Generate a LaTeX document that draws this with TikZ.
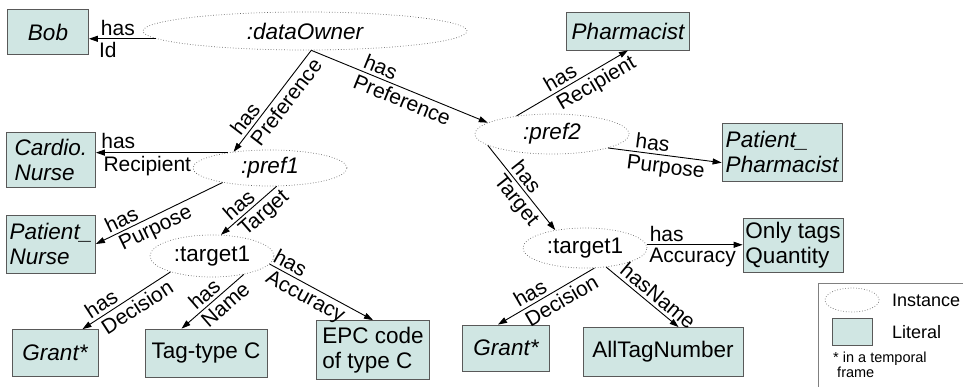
\documentclass[tikz,border=0pt]{standalone}
\usepackage{fontspec}
\setmainfont{Liberation Sans}
\usetikzlibrary{shapes.geometric,arrows.meta}
\definecolor{litfill}{RGB}{208,230,227}
\begin{document}
\begin{tikzpicture}[x = 1pt, y = -1pt,
	inode/.style = {shape = ellipse,
	                draw = black!60,
	                dotted,
	                line width = 0.7pt,
	                inner sep = 0pt,
	                font = \fontsize{22.5}{25}\selectfont},
	lnode/.style = {shape = rectangle,
	                draw = black!65,
	                fill = litfill,
	                line width = 0.8pt,
	                inner sep = 0pt,
	                align = left,
	                font = \fontsize{22.5}{25}\selectfont},
	rel/.style = {draw,
	              line width = 0.9pt,
	              -{Triangle[length = 9pt, width = 6pt]}},
	lab/.style = {font = \fontsize{21}{23}\selectfont,
	              inner sep = 3pt}]
	\useasboundingbox (0,0) rectangle (963,387);

	\node[inode, minimum width = 324pt, minimum height = 38pt] (owner) at (305,31) {\itshape :dataOwner};
	\node[inode, minimum width = 154pt, minimum height = 36pt] (pref1) at (270,168) {\itshape :pref1};
	\node[inode, minimum width = 154pt, minimum height = 40pt] (pref2) at (552,134) {\itshape :pref2};
	\node[inode, minimum width = 124pt, minimum height = 42pt] (tgtA) at (212,256) {:target1};
	\node[inode, minimum width = 124pt, minimum height = 40pt] (tgtB) at (585,248) {:target1};

	\node[lnode, minimum width = 81pt, minimum height = 45pt] (bob) at (48,32) {\itshape Bob};
	\node[lnode, minimum width = 123pt, minimum height = 38pt] (pharm) at (628,31) {\itshape Pharmacist};
	\node[lnode, minimum width = 120pt, minimum height = 58pt] (ppharm) at (782,152) {\itshape Patient\_\\\itshape Pharmacist};
	\node[lnode, minimum width = 89pt, minimum height = 55pt] (cardio) at (51,160) {\itshape Cardio.\\\itshape Nurse};
	\node[lnode, minimum width = 89pt, minimum height = 58pt] (pnurse) at (51,244) {\itshape Patient\_\\\itshape Nurse};
	\node[lnode, minimum width = 86pt, minimum height = 47pt] (grantA) at (55,353) {\itshape Grant*};
	\node[lnode, minimum width = 122pt, minimum height = 48pt] (tagC) at (206,353) {Tag-type C};
	\node[lnode, minimum width = 113pt, minimum height = 59pt] (epc) at (373,350) {EPC code\\of type C};
	\node[lnode, minimum width = 100pt, minimum height = 54pt] (only) at (793,245) {Only tags\\Quantity};
	\node[lnode, minimum width = 87pt, minimum height = 46pt] (grantB) at (506,348) {\itshape Grant*};
	\node[lnode, minimum width = 160pt, minimum height = 49pt] (alltag) at (663,352) {AllTagNumber};

	\draw[rel] (owner.183) -- node[lab, above, pos = 0.57] {has} node[lab, below, pos = 0.72] {Id} (owner.183 -| bob.east);
	\draw[rel] (owner.-72) -- node[lab, sloped, above, pos = 0.74] {has} node[lab, sloped, below, pos = 0.44] {Preference} (pref1.156);
	\draw[rel] (owner.-72) -- node[lab, sloped, above, pos = 0.37] {has} node[lab, sloped, below, pos = 0.54] {Preference} (pref2.170);
	\draw[rel] (pref2.153) -- node[lab, sloped, above, pos = 0.44] {has} node[lab, sloped, below, pos = 0.66] {Recipient} (pharm.south);
	\draw[rel] (pref2.-14) -- node[lab, sloped, above, pos = 0.38] {has} node[lab, sloped, below, pos = 0.52] {Purpose} (ppharm.190);
	\draw[rel] (pref1.160) -- node[lab, above, pos = 0.83] {has} node[lab, below, pos = 0.61] {Recipient} (pref1.160 -| cardio.east);
	\draw[rel] (pref1.197) -- node[lab, sloped, above, pos = 0.76] {has} node[lab, sloped, below, pos = 0.57] {Purpose} (pnurse.east);
	\draw[rel] (pref1.-70) -- node[lab, sloped, above, pos = 0.55] {has} node[lab, sloped, below, pos = 0.37] {Target} (tgtA.67);
	\draw[rel] (tgtA.201) -- node[lab, sloped, above, pos = 0.72] {has} node[lab, sloped, below, pos = 0.45] {Decision} (grantA.41);
	\draw[rel] (tgtA.-30) -- node[lab, sloped, above, pos = 0.52] {has} node[lab, sloped, below, pos = 0.41] {Name} (tagC.135);
	\draw[rel] (tgtA.-8) -- node[lab, sloped, above, pos = 0.15] {has} node[lab, sloped, below, pos = 0.4] {Accuracy} (epc.north);
	\draw[rel] (pref2.190) -- node[lab, sloped, above, pos = 0.45] {has} node[lab, sloped, below, pos = 0.56] {Target} (tgtB.149);
	\draw[rel] (tgtB.3) -- node[lab, above, pos = 0.21] {has} node[lab, below, pos = 0.48] {Accuracy} (tgtB.3 -| only.west);
	\draw[rel] (tgtB.-65) -- node[lab, sloped, above, pos = 0.61] {has} node[lab, sloped, below, pos = 0.4] {Decision} (grantB.109);
	\draw[rel] (tgtB.-42) -- node[lab, sloped, above, pos = 0.62] {hasName} (alltag.58);

	\draw[black!50, line width = 0.6pt] (818,283) rectangle (975,400);
	\node[inode, minimum width = 54pt, minimum height = 24pt] (legI) at (852,300) {};
	\node[lnode, minimum width = 40pt, minimum height = 27pt] (legL) at (852,331.5) {};
	\node[anchor = west, inner sep = 0pt, font = \fontsize{18}{20}\selectfont] (legItxt) at (892,300) {Instance};
	\node[anchor = west, inner sep = 0pt, font = \fontsize{18}{20}\selectfont] (legLtxt) at (892,332) {Literal};
	\node[anchor = north west, inner sep = 0pt, align = left, font = \fontsize{14.5}{15}\selectfont] (legNote) at (833,352) {* in a temporal\\\ frame};
\end{tikzpicture}
\end{document}
